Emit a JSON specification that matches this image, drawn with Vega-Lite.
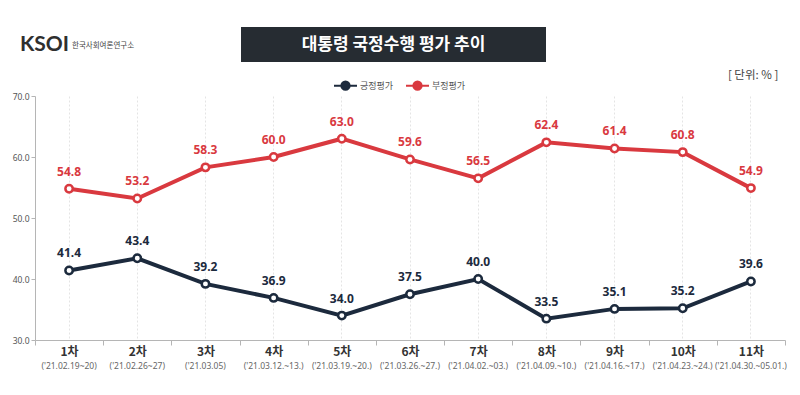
{
  "$schema": "https://vega.github.io/schema/vega-lite/v6.json",
  "background": "white",
  "padding": {"left": 12, "top": 27, "right": 0, "bottom": 0},
  "bounds": "flush",
  "spacing": 69,
  "config": {
    "font": "Noto Sans CJK KR",
    "view": {"stroke": null}
  },
  "vconcat": [
    {
      "bounds": "flush",
      "spacing": 136,
      "hconcat": [
        {
          "width": 70,
          "height": 35,
          "data": {"values": [{"brand": "KSOI", "org": "한국사회여론연구소"}]},
          "layer": [
            {
              "mark": {"type": "text", "align": "right", "baseline": "middle", "dx": -1, "fontSize": 21, "fontWeight": "bold", "font": "Lato", "color": "#2f2f2f"},
              "encoding": {"text": {"field": "brand"}}
            },
            {
              "mark": {"type": "text", "align": "left", "baseline": "middle", "dx": 2, "dy": 1, "fontSize": 7.5, "color": "#444"},
              "encoding": {"text": {"field": "org"}}
            }
          ]
        },
        {
          "width": 305,
          "height": 35,
          "view": {"fill": "#262c32", "stroke": null},
          "data": {"values": [{"t": "대통령 국정수행 평가 추이"}]},
          "mark": {"type": "text", "align": "center", "baseline": "middle", "fontSize": 17, "fontWeight": "bold", "color": "white"},
          "encoding": {"text": {"field": "t"}}
        }
      ]
    },
    {
      "width": 750,
      "height": 244,
      "title": {"text": "[ 단위: % ]", "anchor": "end", "fontSize": 11.5, "fontWeight": "normal", "color": "#444", "offset": 11, "dx": -8},
      "data": {
        "values": [
          {"round": "1차|('21.02.19~20)", "series": "긍정평가", "value": 41.4},
          {"round": "2차|('21.02.26~27)", "series": "긍정평가", "value": 43.4},
          {"round": "3차|('21.03.05)", "series": "긍정평가", "value": 39.2},
          {"round": "4차|('21.03.12.~13.)", "series": "긍정평가", "value": 36.9},
          {"round": "5차|('21.03.19.~20.)", "series": "긍정평가", "value": 34.0},
          {"round": "6차|('21.03.26.~27.)", "series": "긍정평가", "value": 37.5},
          {"round": "7차|('21.04.02.~03.)", "series": "긍정평가", "value": 40.0},
          {"round": "8차|('21.04.09.~10.)", "series": "긍정평가", "value": 33.5},
          {"round": "9차|('21.04.16.~17.)", "series": "긍정평가", "value": 35.1},
          {"round": "10차|('21.04.23.~24.)", "series": "긍정평가", "value": 35.2},
          {"round": "11차|('21.04.30.~05.01.)", "series": "긍정평가", "value": 39.6},
          {"round": "1차|('21.02.19~20)", "series": "부정평가", "value": 54.8},
          {"round": "2차|('21.02.26~27)", "series": "부정평가", "value": 53.2},
          {"round": "3차|('21.03.05)", "series": "부정평가", "value": 58.3},
          {"round": "4차|('21.03.12.~13.)", "series": "부정평가", "value": 60.0},
          {"round": "5차|('21.03.19.~20.)", "series": "부정평가", "value": 63.0},
          {"round": "6차|('21.03.26.~27.)", "series": "부정평가", "value": 59.6},
          {"round": "7차|('21.04.02.~03.)", "series": "부정평가", "value": 56.5},
          {"round": "8차|('21.04.09.~10.)", "series": "부정평가", "value": 62.4},
          {"round": "9차|('21.04.16.~17.)", "series": "부정평가", "value": 61.4},
          {"round": "10차|('21.04.23.~24.)", "series": "부정평가", "value": 60.8},
          {"round": "11차|('21.04.30.~05.01.)", "series": "부정평가", "value": 54.9}
        ]
      },
      "resolve": {"axis": {"x": "independent"}},
      "encoding": {
        "x": {"field": "round", "type": "nominal", "sort": null, "scale": {"type": "band", "paddingInner": 0, "paddingOuter": 0}},
        "y": {
          "field": "value", "type": "quantitative",
          "scale": {"domain": [30, 70], "nice": false, "zero": false},
          "axis": {"title": null, "values": [30, 40, 50, 60, 70], "format": ".1f", "grid": false, "domainColor": "#b5b5b5", "tickColor": "#b5b5b5", "tickSize": 4, "labelPadding": 2, "labelFontSize": 8.5, "labelColor": "#555", "labelFont": "Noto Sans"}
        },
        "color": {
          "field": "series", "type": "nominal",
          "scale": {"domain": ["긍정평가", "부정평가"], "range": ["#1c2a3d", "#d9393f"]},
          "legend": {
            "title": null, "orient": "none", "direction": "horizontal", "legendX": 298, "legendY": 46,
            "symbolType": "M-1,0H-0.36M0.36,0H1M0.36,0A0.36,0.36,0,1,1,-0.36,0A0.36,0.36,0,1,1,0.36,0",
            "symbolSize": 529, "symbolStrokeWidth": 2, "symbolFillColor": "white",
            "labelFontSize": 9, "labelColor": "#555", "labelOffset": 2, "columnPadding": 8,
            "encode": {"symbols": {"enter": {"fill": {"value": "white"}}, "update": {"fill": {"value": "white"}, "stroke": {"scale": "color", "field": "value"}, "strokeWidth": {"value": 2}}}}
          }
        }
      },
      "layer": [
        {
          "mark": {"type": "line", "strokeWidth": 4},
          "encoding": {
            "x": {"field": "round", "type": "nominal", "sort": null, "scale": {"type": "band", "paddingInner": 0, "paddingOuter": 0},
              "axis": {"orient": "bottom", "title": null, "labelExpr": "datum.value ? split(datum.value, '|')[0] : ''", "labelAngle": 0, "labelFontSize": 12, "labelFontWeight": "bold", "labelColor": "#333", "labelPadding": 1, "labelLineHeight": 12, "tickBand": "extent", "tickSize": 5, "tickColor": "#b5b5b5", "domainColor": "#b5b5b5", "grid": false}}
          }
        },
        {
          "mark": {"type": "point", "filled": false, "fill": "white", "size": 55, "strokeWidth": 2.5, "opacity": 1},
          "encoding": {
            "x": {"field": "round", "type": "nominal", "sort": null, "scale": {"type": "band", "paddingInner": 0, "paddingOuter": 0},
              "axis": {"orient": "bottom", "title": null, "labelExpr": "datum.value ? split(datum.value, '|')[1] : ''", "labelAngle": 0, "labelFontSize": 8.5, "labelColor": "#666", "labelFont": "Noto Sans", "labelPadding": 21, "ticks": false, "domain": false, "grid": true, "gridDash": [2, 2], "gridColor": "#e4e4e4"}}
          }
        },
        {
          "mark": {"type": "text", "baseline": "alphabetic", "dy": -13, "fontSize": 12, "fontWeight": "bold", "font": "Noto Sans"},
          "encoding": {
            "x": {"field": "round", "type": "nominal", "sort": null, "axis": null},
            "text": {"field": "value", "type": "quantitative", "format": ".1f"}
          }
        }
      ]
    }
  ]
}
